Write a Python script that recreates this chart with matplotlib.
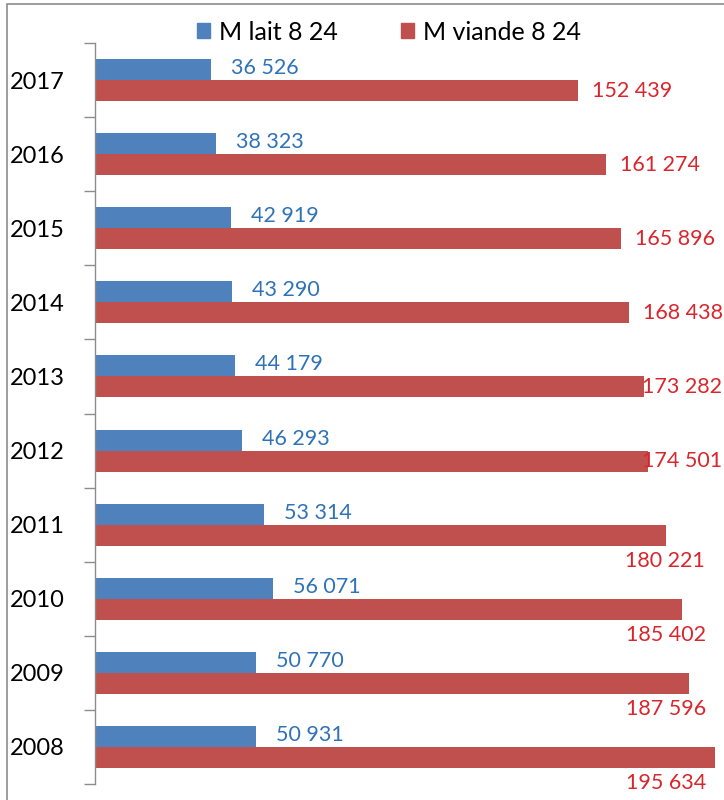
import matplotlib
matplotlib.use('Agg')
from matplotlib import pyplot as plt
from matplotlib.patches import Patch, Rectangle

# data (2008 at the bottom, 2017 at the top)
years = [2008, 2009, 2010, 2011, 2012, 2013, 2014, 2015, 2016, 2017]
lait = [50931, 50770, 56071, 53314, 46293, 44179, 43290, 42919, 38323, 36526]
viande = [195634, 187596, 185402, 180221, 174501, 173282, 168438, 165896,
          161274, 152439]
series_names = ['M lait 8 24', 'M viande 8 24']

BLUE = '#4F81BD'
RED = '#C0504D'
BLUE_TXT = '#2F72B8'
RED_TXT = '#D9262C'
GRID = '#8C8C8C'


def fmt(v):
    return '{:,}'.format(v).replace(',', ' ')


plt.rcParams['font.family'] = ['Lato', 'DejaVu Sans']

fig = plt.figure(figsize=(7.24, 8.0), dpi=100)
W, H = 724.0, 800.0
ax = fig.add_axes([95 / W, 16 / H, (W - 95) / W, (784 - 43) / H])

xmax = 198500
ax.set_xlim(0, xmax)
ax.set_ylim(-0.5, len(years) - 0.5)
px = xmax / (W - 95)  # data units per pixel

h = 0.283
pos = list(range(len(years)))
ax.barh([p + h / 2 for p in pos], lait, height=h, color=BLUE, zorder=2)
ax.barh([p - h / 2 for p in pos], viande, height=h, color=RED, zorder=2)

lab_size = 15.5
lab_w = 78 * px
limit = (722 - 95) * px

for p, v in zip(pos, lait):
    ax.text(v + 20 * px, p + h / 2 + 0.02, fmt(v), color=BLUE_TXT,
            fontsize=lab_size, va='center', ha='left', zorder=3)

for p, v in zip(pos, viande):
    y = p - h / 2
    if v + 14 * px + lab_w <= limit:
        ax.text(v + 14 * px, y, fmt(v), color=RED_TXT, fontsize=lab_size,
                va='center', ha='left', zorder=3, clip_on=False)
    elif v + lab_w <= limit + 6 * px:
        ax.text(limit, y, fmt(v), color=RED_TXT, fontsize=lab_size,
                va='center', ha='right', zorder=3, clip_on=False)
    else:
        xr = min(v + lab_w / 2, limit - 16 * px)
        ax.text(xr, y - 0.35, fmt(v), color=RED_TXT, fontsize=lab_size,
                va='center', ha='right', zorder=3, clip_on=False)

# category axis: ticks between categories, labels centred
ax.set_yticks([p - 0.5 for p in pos] + [len(years) - 0.5])
ax.set_yticklabels([])
ax.set_yticks(pos, minor=True)
ax.set_yticklabels([str(y) for y in years], minor=True, fontsize=17)
ax.tick_params(axis='y', which='major', length=8, width=1, color=GRID,
               direction='out')
ax.tick_params(axis='y', which='minor', length=0, pad=22)
ax.set_xticks([])
for s in ['top', 'right', 'bottom']:
    ax.spines[s].set_visible(False)
ax.spines['left'].set_color(GRID)
ax.spines['left'].set_linewidth(1)

handles = [Patch(color=BLUE), Patch(color=RED)]
fig.legend(handles, series_names, loc='center', ncol=2, frameon=False,
           bbox_to_anchor=(389 / W, 1 - 32 / H), fontsize=18,
           handlelength=0.55, handleheight=0.55, handletextpad=0.36,
           columnspacing=2.5)

# chart border (only left and top edges are inside the picture)
fig.add_artist(Rectangle((7 / W, -0.1), 1.2, 1.1 - 4 / H, fill=False,
                         edgecolor=GRID, linewidth=1.2,
                         transform=fig.transFigure, clip_on=False))

fig.savefig('out.png', dpi=100)
